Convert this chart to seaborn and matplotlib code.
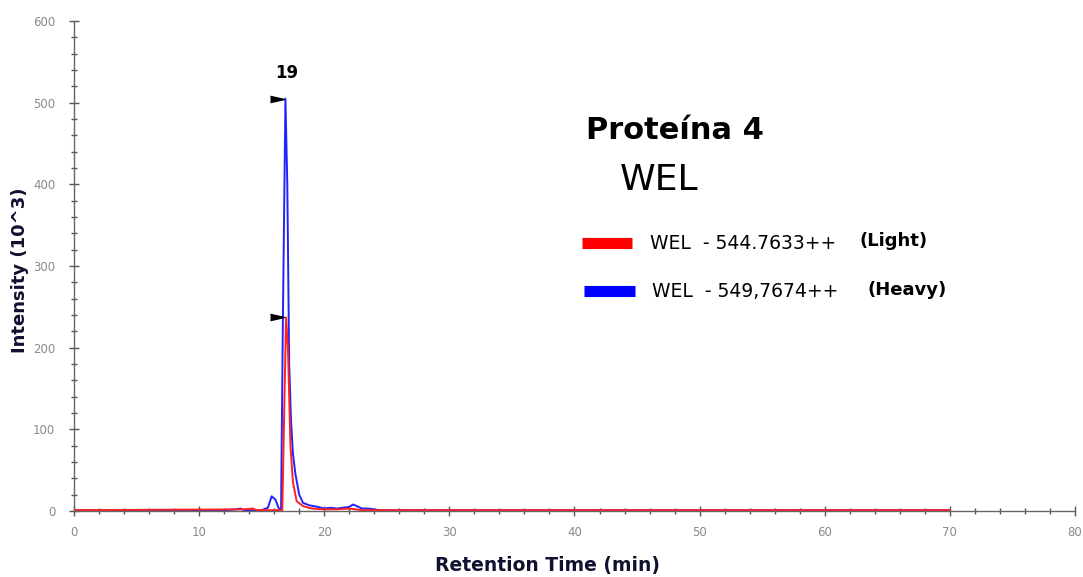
import pandas as pd
import seaborn as sns
import matplotlib.pyplot as plt
from matplotlib.ticker import MultipleLocator

sns.set_style("ticks")
plt.rcParams["font.family"] = ["DejaVu Sans"]
plt.rcParams["text.color"] = "black"

# -------------------------------
# DATA
# -------------------------------
heavy_time = [0, 8, 12, 13.0, 13.3, 13.6, 15.0, 15.5, 15.8, 16.1, 16.4, 16.55, 16.7,
              16.9, 17.05, 17.2, 17.35, 17.5, 17.7, 18.0, 18.3, 18.8, 19.5, 20.0,
              20.5, 21.0, 21.5, 22.0, 22.3, 22.6, 23.0, 23.5, 24.0, 24.4, 70]
heavy_int = [1, 1, 1, 2, 3, 1, 1, 4, 18, 14, 2, 1, 240,
             505, 400, 180, 110, 70, 45, 20, 10, 7, 5, 3,
             4, 3, 4, 5, 8, 6, 3, 3, 2, 1, 1]

light_time = [0, 13.5, 14.3, 14.6, 16.5, 16.65, 16.8, 16.95, 17.1, 17.3, 17.5,
              17.8, 18.3, 19.0, 20.0, 21.0, 22.0, 23.0, 70]
light_int = [1, 2, 3, 1, 1, 1, 120, 237, 200, 80, 35,
             12, 6, 3, 2, 2, 3, 1, 1]

peak_label = "19"
legend_names = ["WEL  - 544.7633++", "WEL  - 549,7674++"]
legend_tags = ["(Light)", "(Heavy)"]

df = pd.concat([
    pd.DataFrame({"time": light_time, "intensity": light_int, "trace": "light"}),
    pd.DataFrame({"time": heavy_time, "intensity": heavy_int, "trace": "heavy"}),
])

# -------------------------------
# PLOT
# -------------------------------
fig = plt.figure(figsize=(10.83, 5.77), dpi=100)
ax = fig.add_axes([0.0683, 0.1144, 0.9243, 0.8492])

sns.lineplot(data=df, x="time", y="intensity", hue="trace",
             hue_order=["heavy", "light"],
             palette={"heavy": "#2222ff", "light": "#ff2020"},
             linewidth=1.4, legend=False, ax=ax, estimator=None, sort=False)

ax.set_xlim(0, 80)
ax.set_ylim(0, 600)
ax.xaxis.set_major_locator(MultipleLocator(10))
ax.xaxis.set_minor_locator(MultipleLocator(2))
ax.yaxis.set_major_locator(MultipleLocator(100))
ax.yaxis.set_minor_locator(MultipleLocator(20))

for s in ["top", "right"]:
    ax.spines[s].set_visible(False)
for s in ["left", "bottom"]:
    ax.spines[s].set_color("#666666")
    ax.spines[s].set_linewidth(1.0)

ax.tick_params(which="major", direction="inout", length=7, width=1, color="#555555",
               labelsize=8.5, labelcolor="#8a8a8a")
ax.tick_params(which="minor", direction="inout", length=4, width=1, color="#555555")
ax.tick_params(axis="y", pad=10)
ax.tick_params(axis="x", pad=7)

ax.set_xlabel("Retention Time (min)", fontsize=13.5, fontweight="bold", color="#101030")
ax.set_ylabel("Intensity (10^3)", fontsize=13, fontweight="bold", color="#101030")
ax.xaxis.set_label_coords(0.4735, -0.112)
ax.xaxis.label.set_va("center")
ax.yaxis.set_label_coords(-0.054, 0.492)
ax.yaxis.label.set_va("center")

# peak markers (black triangles) and label
marker = [(-1, -0.45), (1, 0), (-1, 0.45)]
hmax = max(heavy_int)
lmax = max(light_int)
htime = heavy_time[heavy_int.index(hmax)]
ax.scatter([htime - 0.7, htime - 0.7], [hmax, lmax], marker=marker, s=100,
           color="black", zorder=5)
ax.text(htime + 0.1, hmax + 20, peak_label, ha="center", va="bottom",
        fontsize=12, fontweight="bold", color="black")

# title / legend block
fig.text(0.541, 0.773, "Proteína 4", fontsize=22, fontweight="bold", ha="left", va="center")
fig.text(0.572, 0.688, "WEL", fontsize=26, ha="left", va="center")

colors = ["#ff0000", "#0000ff"]
ys = [0.578, 0.495]
xs = [0.537, 0.539]
for c, y, x0, name in zip(colors, ys, xs, legend_names):
    fig.add_artist(plt.Line2D([x0, x0 + 0.047], [y, y], color=c, linewidth=8,
                              solid_capstyle="butt", transform=fig.transFigure))
    fig.text(x0 + 0.063, y, name, fontsize=13.5, ha="left", va="center")
fig.text(0.794, 0.582, legend_tags[0], fontsize=13, fontweight="bold", ha="left", va="center")
fig.text(0.801, 0.497, legend_tags[1], fontsize=13, fontweight="bold", ha="left", va="center")

fig.savefig("out.png", dpi=100)
